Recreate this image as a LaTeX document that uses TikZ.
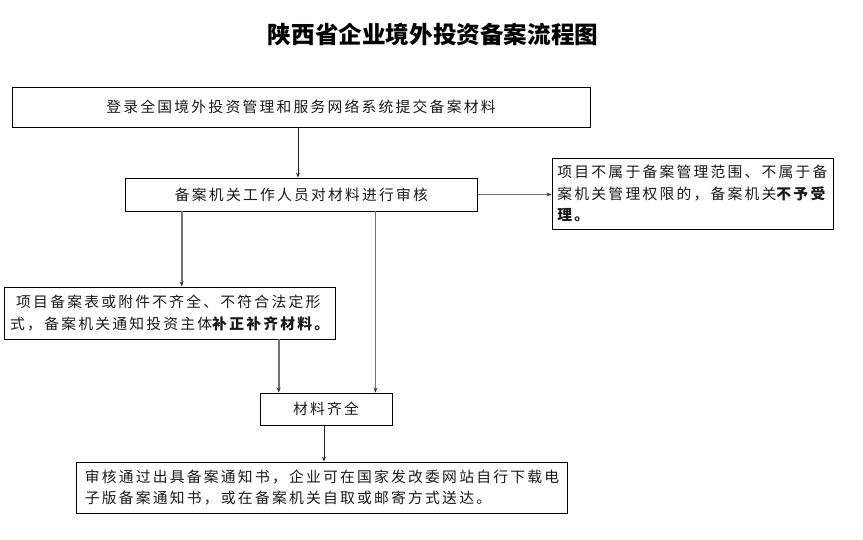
\documentclass[tikz,border=0pt]{standalone}
\usepackage{fontspec}
\usetikzlibrary{arrows.meta}
\newfontfamily\cjk[LetterSpace=15]{Noto Sans CJK SC}
\newfontfamily\cjktitle{Noto Sans CJK SC}
\tikzset{
  boxstyle/.style={draw=black, line width=0.9pt, inner sep=0pt, font=\cjk\fontsize{14.8}{21.5}\selectfont, text=black!90},
  thinarrow/.style={draw=black!85, line width=0.8pt, -{Stealth[length=5pt,width=4pt]}},
  grayarrow/.style={draw=black!55, line width=1.8pt, -{Stealth[length=5pt,width=4pt,black!80]}},
}
\begin{document}
\begin{tikzpicture}[x=1pt,y=-1pt]
\useasboundingbox (0,0) rectangle (863,539);
\node[font=\cjktitle\bfseries\fontsize{23.6}{26}\selectfont, text=black] (title) at (433,35) {陕西省企业境外投资备案流程图};
\node[boxstyle, minimum width=578pt, minimum height=40pt] (b1) at (301,107) {登录全国境外投资管理和服务网络系统提交备案材料};
\node[boxstyle, minimum width=352pt, minimum height=33pt] (b2) at (301.5,194.5) {备案机关工作人员对材料进行审核};
\node[boxstyle, minimum width=281pt, minimum height=71pt, align=left] (b3) at (692.5,193.5) {项目不属于备案管理范围、不属于备\\案机关管理权限的，备案机关{\bfseries 不予受}\\{\bfseries 理。}};
\node[boxstyle, minimum width=331pt, minimum height=52pt, align=left] (b4) at (169.7,313) {\hspace{6pt}项目备案表或附件不齐全、不符合法定形\\式，备案机关通知投资主体{\bfseries 补正补齐材料。}};
\node[boxstyle, minimum width=132pt, minimum height=32pt] (b5) at (326,409) {材料齐全};
\node[boxstyle, minimum width=491pt, minimum height=51pt, align=left] (b6) at (322,487.5) {审核通过出具备案通知书，企业可在国家发改委网站自行下载电\\子版备案通知书，或在备案机关自取或邮寄方式送达。};
\draw[thinarrow] ([xshift=-3pt]b1.south) -- ([xshift=-3pt]b1.south |- b2.north);
\draw[grayarrow] (b2.east) -- (b2.east -| b3.west);
\draw[grayarrow] ([xshift=-119.8pt]b2.south) -- ([xshift=-119.8pt]b2.south |- b4.north);
\draw[grayarrow] ([xshift=74pt]b2.south) -- ([xshift=74pt]b2.south |- b5.north);
\draw[grayarrow] ([xshift=109pt]b4.south) -- ([xshift=109pt]b4.south |- b5.north);
\draw[thinarrow] ([xshift=-2pt]b5.south) -- ([xshift=-2pt]b5.south |- b6.north);
\end{tikzpicture}
\end{document}
